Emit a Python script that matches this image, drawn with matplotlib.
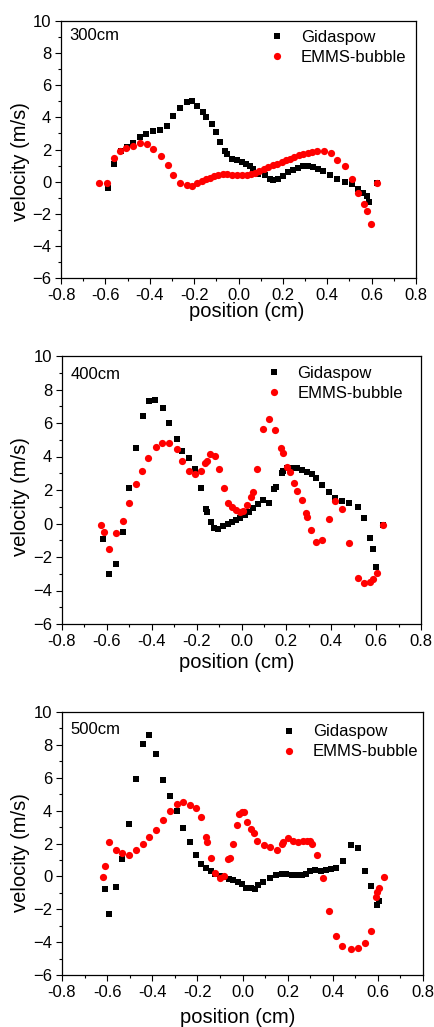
import matplotlib.pyplot as plt
from matplotlib.ticker import MultipleLocator

plt.rcParams["font.family"] = ["Liberation Sans", "DejaVu Sans"]

# 300cm
gid_300_x = [-0.59, -0.561, -0.531, -0.504, -0.474, -0.444, -0.417, -0.384, -0.354, -0.324,
             -0.294, -0.264, -0.234, -0.211, -0.189, -0.162, -0.146, -0.121, -0.101, -0.083,
             -0.061, -0.05, -0.031, -0.008, 0.014, 0.034, 0.052, 0.067, 0.089, 0.119,
             0.142, 0.157, 0.18, 0.202, 0.225, 0.247, 0.27, 0.292, 0.315, 0.337,
             0.36, 0.382, 0.412, 0.442, 0.48, 0.51, 0.54, 0.563, 0.578, 0.59, 0.623]
gid_300_y = [-0.4, 1.12, 1.89, 2.16, 2.41, 2.78, 2.95, 3.13, 3.24, 3.49,
             4.07, 4.59, 4.96, 5.0, 4.69, 4.34, 4.02, 3.57, 3.07, 2.49,
             1.91, 1.7, 1.43, 1.33, 1.22, 1.08, 0.98, 0.81, 0.46, 0.39,
             0.19, 0.08, 0.19, 0.35, 0.6, 0.75, 0.85, 0.95, 0.98, 0.91,
             0.81, 0.64, 0.41, 0.19, 0.0, -0.17, -0.44, -0.68, -0.91, -1.27, -0.06]
emms_300_x = [-0.627, -0.591, -0.561, -0.534, -0.507, -0.474, -0.444, -0.414, -0.387, -0.351,
              -0.319, -0.297, -0.264, -0.234, -0.208, -0.186, -0.166, -0.146, -0.128, -0.109,
              -0.091, -0.071, -0.053, -0.031, -0.008, 0.014, 0.037, 0.055, 0.074, 0.094,
              0.115, 0.134, 0.154, 0.175, 0.195, 0.214, 0.232, 0.252, 0.273, 0.292,
              0.311, 0.333, 0.355, 0.385, 0.417, 0.442, 0.48, 0.51, 0.54, 0.565,
              0.578, 0.596, 0.623]
emms_300_y = [-0.06, -0.06, 1.45, 1.91, 2.1, 2.24, 2.41, 2.32, 2.05, 1.58,
              1.04, 0.44, -0.06, -0.23, -0.25, -0.08, 0.04, 0.17, 0.25, 0.33,
              0.44, 0.46, 0.46, 0.39, 0.39, 0.39, 0.39, 0.48, 0.54, 0.64,
              0.77, 0.91, 1.02, 1.12, 1.22, 1.33, 1.43, 1.54, 1.68, 1.74,
              1.8, 1.85, 1.91, 1.91, 1.8, 1.37, 0.98, 0.19, -0.68, -1.41,
              -1.85, -2.66, -0.06]

# 400cm
gid_400_x = [-0.617, -0.59, -0.56, -0.53, -0.501, -0.472, -0.441, -0.414, -0.384, -0.352,
             -0.322, -0.289, -0.263, -0.233, -0.208, -0.182, -0.158, -0.155, -0.138, -0.123,
             -0.103, -0.081, -0.062, -0.042, -0.025, -0.007, 0.016, 0.035, 0.053, 0.072,
             0.097, 0.123, 0.146, 0.154, 0.179, 0.184, 0.205, 0.227, 0.246, 0.269,
             0.291, 0.313, 0.333, 0.358, 0.388, 0.417, 0.447, 0.481, 0.517, 0.547,
             0.574, 0.584, 0.599, 0.63]
gid_400_y = [-0.9, -3.03, -2.39, -0.5, 2.13, 4.5, 6.4, 7.33, 7.39, 6.87,
             5.98, 5.02, 4.34, 3.92, 3.23, 2.09, 0.86, 0.66, 0.1, -0.24,
             -0.32, -0.16, -0.02, 0.08, 0.22, 0.34, 0.5, 0.7, 0.94, 1.18,
             1.39, 1.24, 2.05, 2.19, 3.03, 3.15, 3.33, 3.33, 3.29, 3.19,
             3.07, 2.93, 2.69, 2.27, 1.89, 1.53, 1.37, 1.22, 1.0, 0.3,
             -0.88, -1.53, -2.59, -0.06]
emms_400_x = [-0.624, -0.614, -0.59, -0.56, -0.53, -0.501, -0.472, -0.444, -0.416, -0.383,
              -0.354, -0.322, -0.289, -0.263, -0.233, -0.208, -0.182, -0.163, -0.155, -0.141,
              -0.119, -0.099, -0.078, -0.059, -0.044, -0.025, -0.007, 0.008, 0.023, 0.041,
              0.053, 0.071, 0.097, 0.124, 0.149, 0.175, 0.184, 0.205, 0.216, 0.234,
              0.249, 0.269, 0.286, 0.291, 0.309, 0.333, 0.358, 0.391, 0.417, 0.447,
              0.481, 0.518, 0.547, 0.574, 0.584, 0.603, 0.63]
emms_400_y = [-0.06, -0.5, -1.53, -0.54, 0.16, 1.2, 2.35, 3.11, 3.89, 4.54,
              4.82, 4.82, 4.46, 3.75, 3.13, 2.95, 3.13, 3.61, 3.73, 4.12,
              4.04, 3.25, 2.13, 1.2, 1.0, 0.8, 0.7, 0.74, 1.1, 1.59,
              1.89, 3.23, 5.62, 6.24, 5.58, 4.48, 4.18, 3.35, 3.09, 2.39,
              1.95, 1.39, 0.6, 0.4, -0.4, -1.08, -1.0, 0.26, 1.35, 0.88,
              -1.16, -3.27, -3.53, -3.49, -3.29, -2.93, -0.06]

# 500cm
gid_500_x = [-0.611, -0.591, -0.56, -0.532, -0.502, -0.473, -0.443, -0.414, -0.384, -0.353,
             -0.321, -0.291, -0.262, -0.233, -0.207, -0.184, -0.162, -0.141, -0.122, -0.1,
             -0.08, -0.058, -0.041, -0.021, -0.004, 0.015, 0.036, 0.055, 0.07, 0.092,
             0.122, 0.148, 0.173, 0.195, 0.218, 0.24, 0.262, 0.281, 0.299, 0.321,
             0.346, 0.37, 0.392, 0.414, 0.446, 0.479, 0.513, 0.544, 0.571, 0.594, 0.604]
gid_500_y = [-0.79, -2.3, -0.67, 1.03, 3.21, 5.9, 8.04, 8.61, 7.47, 5.86,
             4.91, 4.0, 2.95, 2.08, 1.31, 0.77, 0.51, 0.32, 0.16, 0.02,
             -0.04, -0.14, -0.24, -0.34, -0.44, -0.71, -0.71, -0.75, -0.55, -0.34,
             -0.1, 0.06, 0.12, 0.12, 0.08, 0.06, 0.08, 0.16, 0.3, 0.36,
             0.34, 0.36, 0.46, 0.51, 0.91, 1.92, 1.72, 0.34, -0.59, -1.76, -1.49]
emms_500_x = [-0.62, -0.611, -0.591, -0.56, -0.532, -0.502, -0.473, -0.443, -0.414, -0.384,
              -0.353, -0.321, -0.291, -0.262, -0.233, -0.207, -0.184, -0.162, -0.156, -0.141,
              -0.122, -0.1, -0.08, -0.063, -0.055, -0.043, -0.026, -0.015, -0.004, 0.007,
              0.021, 0.036, 0.051, 0.066, 0.095, 0.122, 0.151, 0.173, 0.181, 0.203,
              0.225, 0.247, 0.266, 0.284, 0.299, 0.31, 0.331, 0.355, 0.384, 0.414,
              0.443, 0.479, 0.513, 0.544, 0.569, 0.59, 0.598, 0.604, 0.626]
emms_500_y = [-0.06, 0.63, 2.08, 1.58, 1.41, 1.33, 1.58, 1.98, 2.42, 2.85,
              3.45, 4.0, 4.4, 4.5, 4.34, 4.16, 3.6, 2.38, 2.08, 1.11,
              0.22, -0.1, 0.02, 1.03, 1.11, 1.98, 3.13, 3.8, 3.9, 3.9,
              3.33, 2.89, 2.65, 2.18, 1.92, 1.78, 1.62, 1.98, 2.08, 2.32,
              2.18, 2.12, 2.14, 2.18, 2.14, 1.98, 1.33, -0.1, -2.12, -3.64,
              -4.22, -4.44, -4.34, -4.04, -3.31, -1.25, -0.95, -0.71, -0.06]

panels = [
    ("300cm", gid_300_x, gid_300_y, emms_300_x, emms_300_y),
    ("400cm", gid_400_x, gid_400_y, emms_400_x, emms_400_y),
    ("500cm", gid_500_x, gid_500_y, emms_500_x, emms_500_y),
]

W, H = 434, 1027
# axes boxes in pixels: left, right, top, bottom
boxes = [(61, 416, 21, 278), (62, 421, 356, 624), (62, 423, 712, 975)]
legend_anchor = [(0.585, 0.896), (0.566, 0.897), (0.606, 0.886)]
ylabel_pos = [(-0.088, 0.454), (-0.088, 0.474), (-0.09, 0.464)]
xlabel_pos = [(0.522, -0.093), (0.487, -0.11), (0.487, -0.125)]
name_y = [0.944, 0.932, 0.934]

fig = plt.figure(figsize=(W / 100, H / 100), dpi=100)

for i, (name, gx, gy, ex, ey) in enumerate(panels):
    l, r, t, b = boxes[i]
    ax = fig.add_axes([l / W, 1 - b / H, (r - l) / W, (b - t) / H])
    ax.plot(gx, gy, "s", color="black", markersize=4.8, markeredgewidth=0, label="Gidaspow")
    ax.plot(ex, ey, "o", color="#ff0000", markersize=5.2, markeredgewidth=0, label="EMMS-bubble")
    ax.set_xlim(-0.8, 0.8)
    ax.set_ylim(-6, 10)
    ax.xaxis.set_major_locator(MultipleLocator(0.2))
    ax.xaxis.set_minor_locator(MultipleLocator(0.1))
    ax.yaxis.set_major_locator(MultipleLocator(2))
    ax.yaxis.set_minor_locator(MultipleLocator(1))
    ax.xaxis.set_major_formatter(plt.FuncFormatter(lambda v, p: f"{v:.1f}".replace("-0.0", "0.0")))
    ax.tick_params(which="both", direction="out", top=False, right=False, labelsize=12, width=0.8)
    ax.tick_params(which="major", length=4.5, pad=2.5)
    ax.tick_params(which="minor", length=2.5)
    for s in ax.spines.values():
        s.set_linewidth(0.9)
    ax.set_xlabel("position (cm)", fontsize=14.5)
    ax.set_ylabel("velocity (m/s)", fontsize=14.5)
    ax.xaxis.set_label_coords(*xlabel_pos[i])
    ax.yaxis.set_label_coords(*ylabel_pos[i])
    ax.text(0.023, name_y[i], name, transform=ax.transAxes, fontsize=12, va="center", ha="left")
    ax.legend(loc="center left", bbox_to_anchor=legend_anchor[i], frameon=False, fontsize=12,
              handlelength=1.0, handletextpad=0.94, labelspacing=0.3, borderpad=0,
              borderaxespad=0, markerscale=1.0)

fig.savefig("out.png", dpi=100)
